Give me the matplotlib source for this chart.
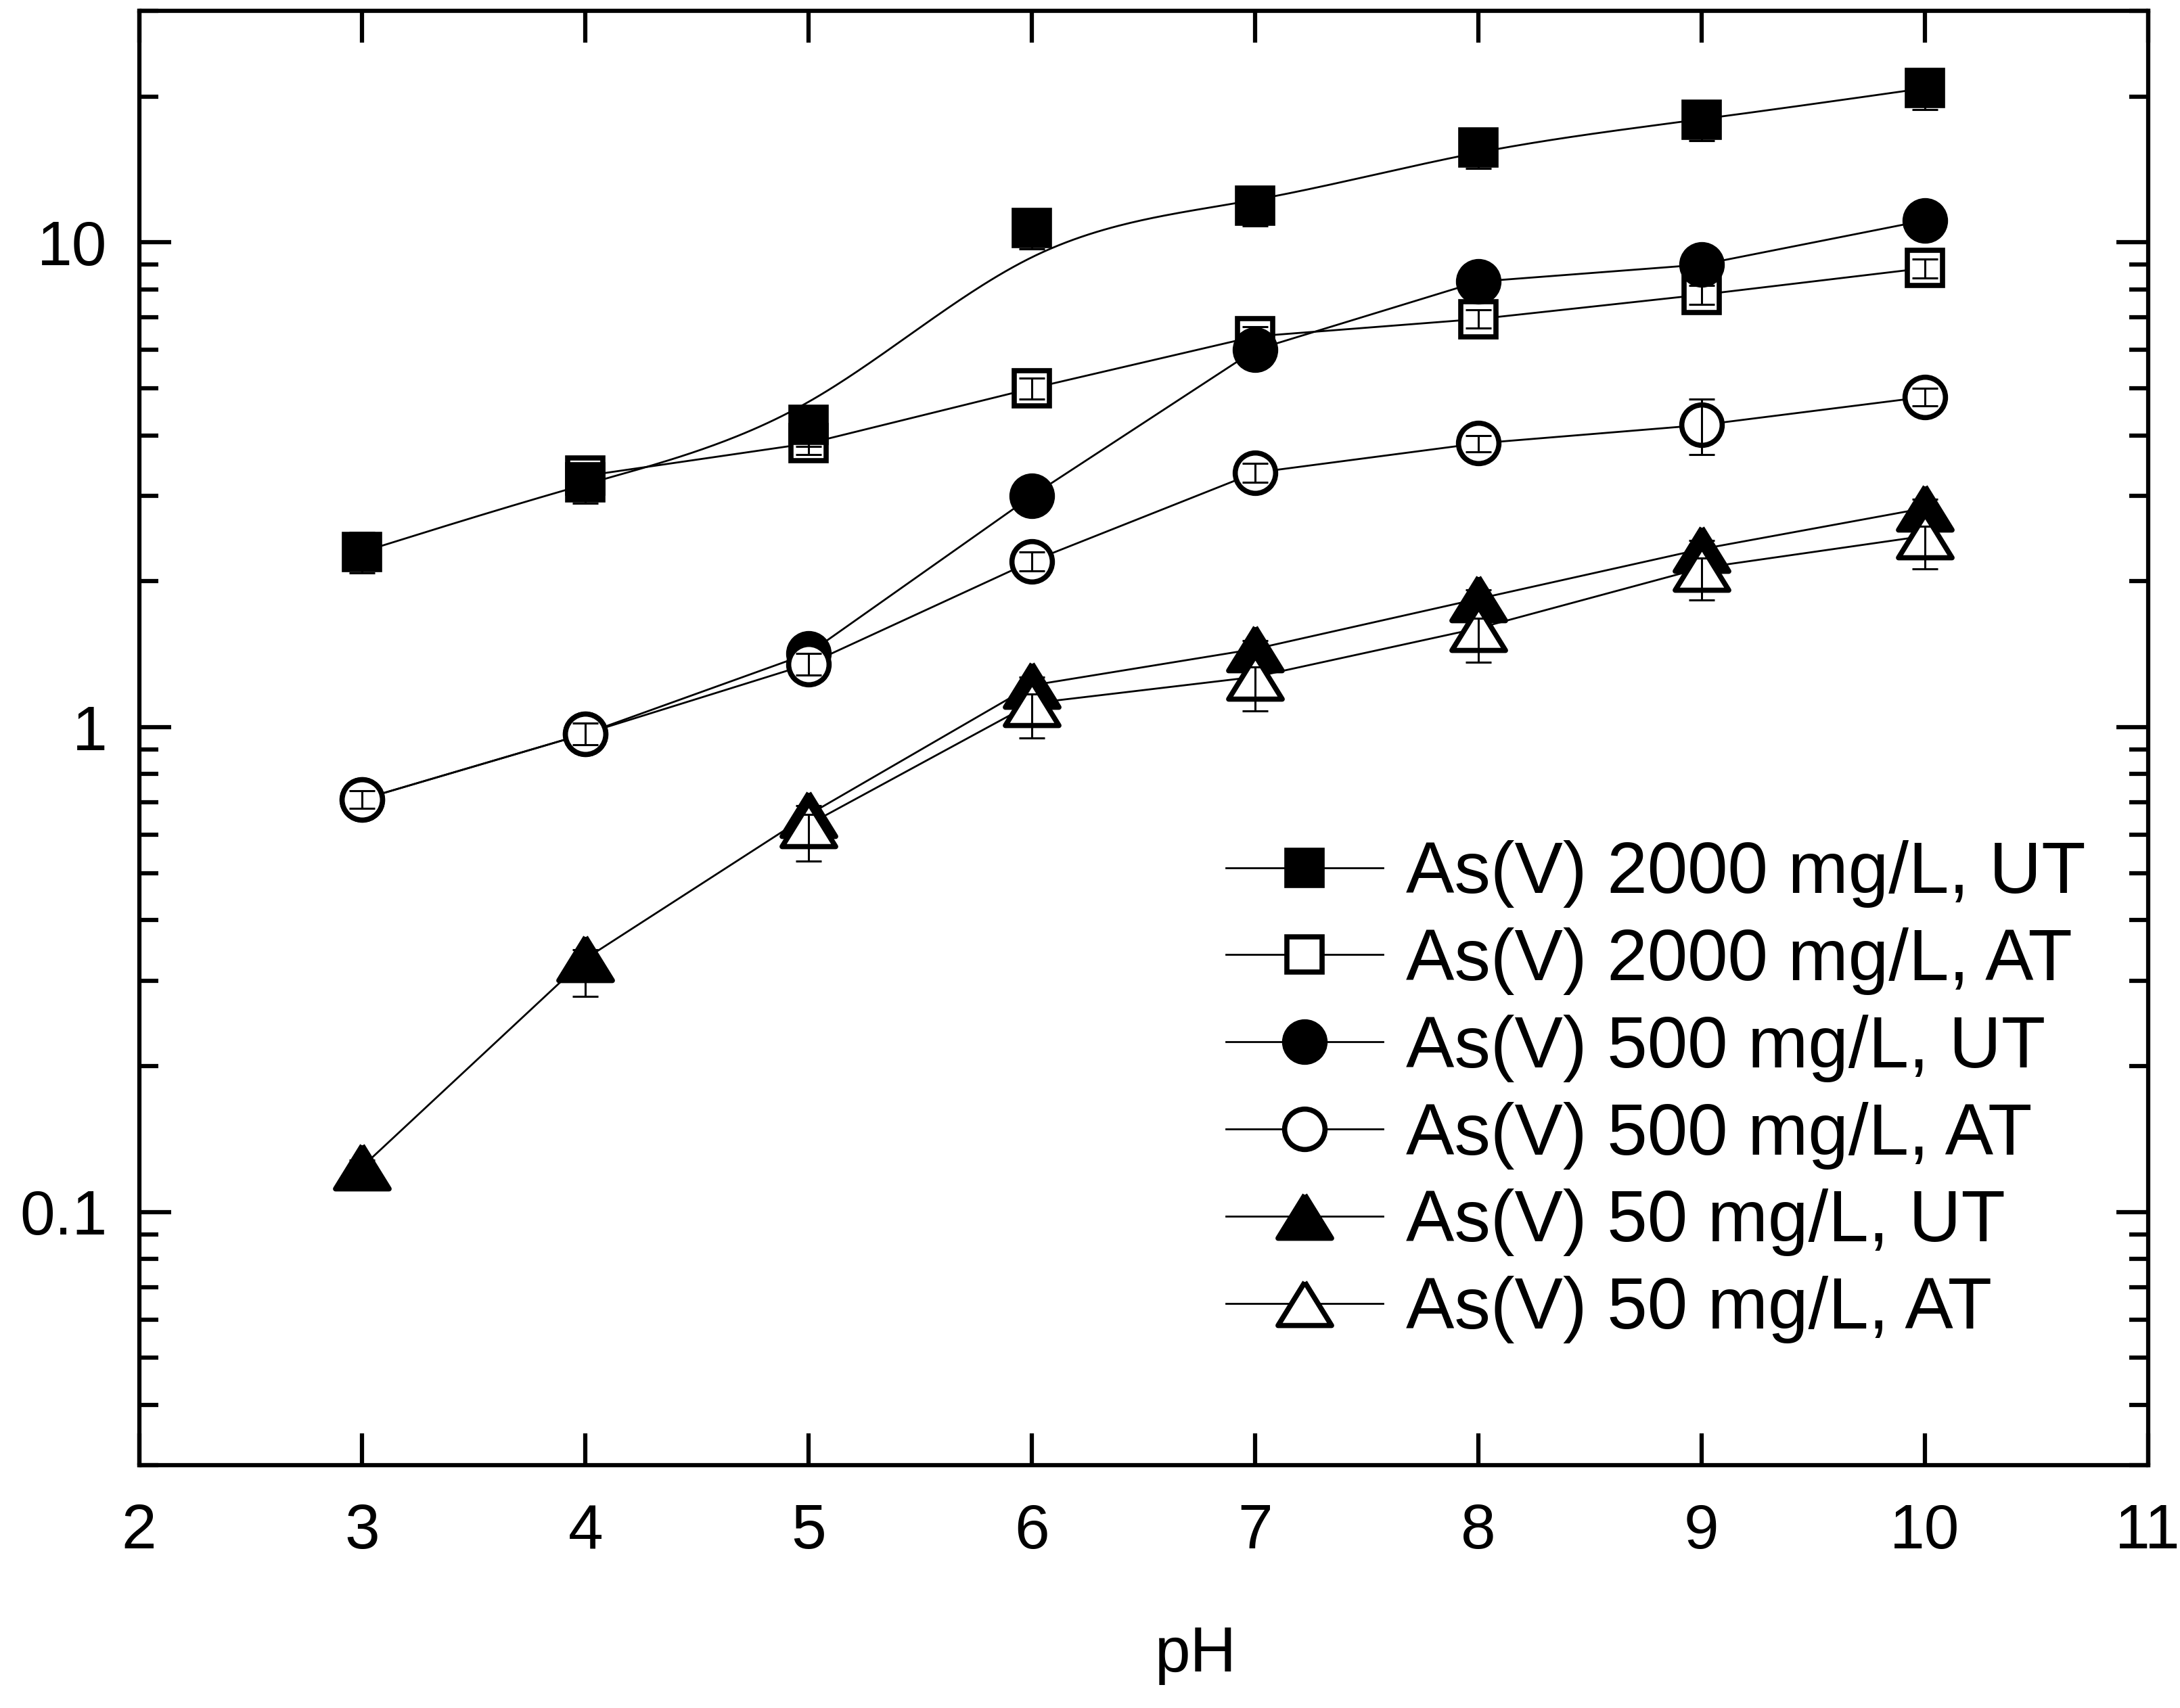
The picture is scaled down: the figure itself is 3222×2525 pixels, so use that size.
import numpy as np
import matplotlib
matplotlib.use('Agg')
import matplotlib.pyplot as plt
from matplotlib.lines import Line2D
from matplotlib.ticker import FixedLocator, NullFormatter

plt.rcParams['font.family'] = ['Liberation Sans', 'DejaVu Sans']

# As(V) removal vs pH (log axis), UT = untreated, AT = treated
ph = [3, 4, 5, 6, 7, 8, 9, 10]
ph_2000_at = [4, 5, 6, 7, 8, 9, 10]
ph_50_at = [5, 6, 7, 8, 9, 10]

as2000_ut = [2.3, 3.2, 4.2, 10.7, 11.9, 15.7, 17.9, 20.8]
as2000_ut_err = [0.22, 0.3, 0.4, 1.0, 1.1, 1.5, 1.7, 2.0]
as2000_at = [3.3, 3.85, 5.0, 6.4, 6.95, 7.8, 8.85]
as2000_at_err = [0.15, 0.2, 0.25, 0.3, 0.3, 0.35, 0.4]
as500_ut = [0.71, 0.97, 1.42, 3.0, 6.0, 8.3, 9.0, 11.1]
as500_ut_err = [0.04, 0.05, 0.08, 0.15, 0.3, 0.4, 0.45, 0.5]
as500_at = [0.71, 0.97, 1.35, 2.2, 3.35, 3.85, 4.2, 4.8]
as500_at_err = [0.03, 0.05, 0.07, 0.1, 0.15, 0.15, 0.55, 0.2]
as50_ut = [0.124, 0.333, 0.66, 1.22, 1.45, 1.84, 2.33, 2.83]
as50_ut_lo = [0.004, 0.055, 0.03, 0.05, 0.06, 0.08, 0.1, 0.12]
as50_ut_hi = [0.004, 0.015, 0.03, 0.05, 0.06, 0.08, 0.1, 0.12]
as50_at = [0.63, 1.12, 1.27, 1.6, 2.13, 2.48]
as50_at_lo = [0.1, 0.17, 0.19, 0.24, 0.3, 0.36]
as50_at_hi = [0.03, 0.05, 0.06, 0.08, 0.1, 0.12]

labels = ['As(V) 2000 mg/L, UT', 'As(V) 2000 mg/L, AT',
          'As(V) 500 mg/L, UT', 'As(V) 500 mg/L, AT',
          'As(V) 50 mg/L, UT', 'As(V) 50 mg/L, AT']

# wide, slightly flattened triangle
tri = [(0, 0.81), (-1, -0.81), (1, -0.81), (0, 0.81)]

LW = 2.0       # connecting line
MEW = 5.5      # marker edge
SPINE = 4.5

def bspline(x, y, n=60):
    """Uniform cubic B-spline through (x, log10 y), clamped at both ends."""
    P = np.column_stack([x, np.log10(y)]).astype(float)
    P = np.vstack([P[0], P[0], P, P[-1], P[-1]])
    t = np.linspace(0, 1, n)[:, None]
    b0 = (1 - t)**3 / 6
    b1 = (3*t**3 - 6*t**2 + 4) / 6
    b2 = (-3*t**3 + 3*t**2 + 3*t + 1) / 6
    b3 = t**3 / 6
    segs = [b0*P[i] + b1*P[i+1] + b2*P[i+2] + b3*P[i+3] for i in range(len(P) - 3)]
    c = np.vstack(segs)
    return c[:, 0], 10**c[:, 1]

fig = plt.figure(figsize=(32.22, 25.25), dpi=100)
ax = fig.add_axes([0.0638, 0.142, 0.9215, 0.8515])
ax.set_yscale('log')

# x, y, yerr, marker, face, size, zorder
series = [
    (ph, as2000_ut, as2000_ut_err, 's', 'black', 38, 4),
    (ph_2000_at, as2000_at, as2000_at_err, 's', 'white', 38, 3),
    (ph, as500_ut, as500_ut_err, 'o', 'black', 43, 5),
    (ph, as500_at, as500_at_err, 'o', 'white', 43, 6),
    (ph, as50_ut, [as50_ut_lo, as50_ut_hi], tri, 'black', 57, 7),
    (ph_50_at, as50_at, [as50_at_lo, as50_at_hi], tri, 'white', 57, 8),
]

handles = []
for i, (x, y, e, m, fc, ms, z) in enumerate(series):
    if i == 0:
        sx, sy = bspline(x, y)
        ax.plot(sx, sy, color='black', lw=LW, zorder=z)
        ax.plot(x, y, ls='none', marker=m, ms=ms, mfc=fc, mec='black', mew=MEW, zorder=z)
    else:
        ax.plot(x, y, color='black', lw=LW, marker=m, ms=ms, mfc=fc, mec='black',
                mew=MEW, zorder=z)
    ax.errorbar(x, y, yerr=e, fmt='none', ecolor='black', elinewidth=2.2,
                capsize=14, capthick=2.2, zorder=z + 0.5)
    handles.append(Line2D([], [], color='black', lw=LW, marker=m, ms=ms, mfc=fc,
                          mec='black', mew=MEW))

ax.set_xlim(2, 11)
ax.set_ylim(0.03, 30)
ax.set_xticks(range(2, 12))
ax.set_yticks([0.1, 1, 10])
ax.set_yticklabels(['0.1', '1', '10'])
minor = [k * 10.0**d for d in (-2, -1, 0, 1) for k in range(2, 10)]
ax.yaxis.set_minor_locator(FixedLocator([v for v in minor if 0.03 <= v <= 30]))
ax.yaxis.set_minor_formatter(NullFormatter())

ax.tick_params(which='both', direction='in', top=True, right=True, width=SPINE)
ax.tick_params(which='major', length=34, labelsize=67)
ax.tick_params(axis='y', which='major', pad=34)
ax.tick_params(axis='x', which='major', pad=40)
ax.tick_params(which='minor', length=20)
for s in ax.spines.values():
    s.set_linewidth(SPINE)

ax.set_xlabel('pH', fontsize=68, labelpad=68, x=0.526)

ax.legend(handles, labels, loc='upper left', bbox_to_anchor=(0.541, 0.43),
          frameon=False, fontsize=77, numpoints=1, handlelength=2.17,
          handletextpad=0.32, labelspacing=0.27, borderaxespad=0, borderpad=0)

fig.savefig('out.png', dpi=100)
